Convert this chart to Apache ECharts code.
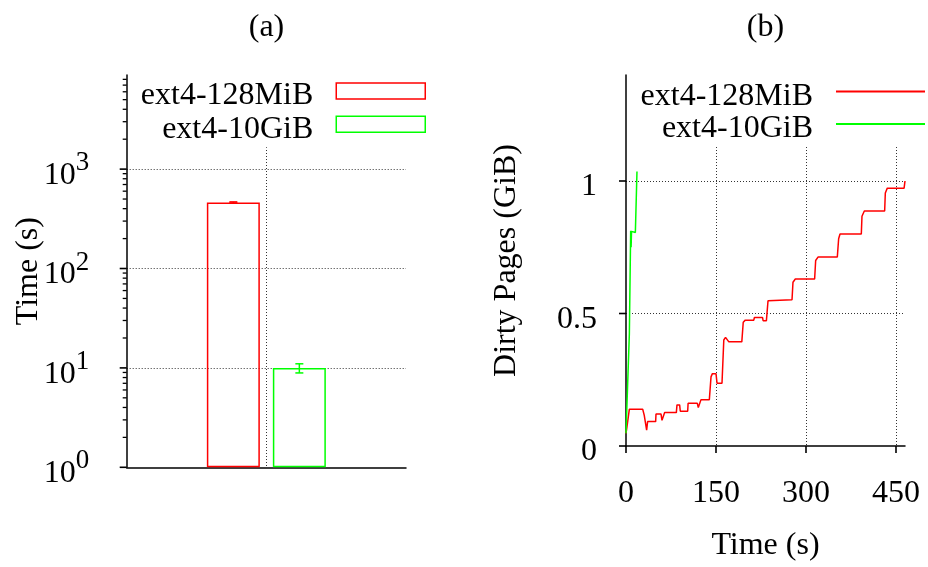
<!DOCTYPE html>
<html>
<head>
<meta charset="utf-8">
<title>ext4 time and dirty pages</title>
<script src="https://cdn.jsdelivr.net/npm/echarts@6/dist/echarts.min.js"></script>
<style>
  html, body { margin: 0; padding: 0; background: #fff; }
  #chart { width: 928px; height: 567px; }
</style>
</head>
<body>
<div id="chart"></div>
<script>
const FONT = 'Liberation Serif'
const seriesNames = ['ext4-128MiB', 'ext4-10GiB']
const colors = ['#ff0000', '#00ff00']

// (a) total run time, log scale
const barSlots = ['', 'ext4', ' ']
const times = [462, 10]
const timeErrLow = [456, 8.9]
const timeErrHigh = [468, 11]
const logMajor = [1, 10, 100, 1000]
const logMinor = [2, 3, 4, 5, 6, 7, 8, 9, 20, 30, 40, 50, 60, 70, 80, 90,
  200, 300, 400, 500, 600, 700, 800, 900, 2000, 3000, 4000, 5000, 6000, 7000, 8000]

// (b) dirty pages (GiB) over time (s)
const dirty128 = [
  [0, 0.048], [1.5, 0.07], [5.6, 0.139], [27.8, 0.139], [30.5, 0.115], [33, 0.115],
  [34.4, 0.06], [36, 0.092], [49.4, 0.092], [50, 0.121], [58.3, 0.121], [60, 0.097],
  [63, 0.097], [64.4, 0.126], [83.9, 0.126], [85, 0.155], [89.4, 0.155], [90.5, 0.131],
  [102.8, 0.131], [103.5, 0.161], [118.9, 0.161], [119.5, 0.168], [120.5, 0.145],
  [123.5, 0.145], [125, 0.175], [138.9, 0.175], [141.7, 0.261], [144, 0.273],
  [150, 0.273], [151.7, 0.237], [160, 0.237], [163, 0.4], [165.9, 0.41], [168, 0.41],
  [171.4, 0.393], [193, 0.393], [195.4, 0.467], [198.8, 0.475], [213, 0.475],
  [214, 0.485], [227.5, 0.485], [228.5, 0.473], [234, 0.473], [236.7, 0.548],
  [239, 0.552], [276.7, 0.552], [278.3, 0.618], [282.2, 0.63], [314.4, 0.63],
  [316.1, 0.7], [320, 0.713], [352.2, 0.713], [354.4, 0.782], [356.7, 0.8],
  [392.2, 0.8], [393.3, 0.867], [397.2, 0.887], [431.1, 0.887], [432.2, 0.955],
  [435.5, 0.973], [463.5, 0.973], [465, 1.0]
]
const dirty10g = [
  [0, 0.048], [3.3, 0.048], [5.6, 0.424], [7.8, 0.812], [8.5, 0.75], [9.2, 0.81],
  [10, 0.806], [15.6, 0.806], [18.3, 1.036]
]
const timeTicks = [0, 150, 300, 450]
const dirtyTicks = [0, 0.5, 1]

const BAR_W = 53
const BAR_GAP = 13

const dots = { color: '#333', width: 1, type: [1, 2] }
const blackLine = { show: true, lineStyle: { color: '#000', width: 1.5 } }
const tickText = { fontFamily: FONT, fontSize: 32, color: '#000' }
const nameText = { fontFamily: FONT, fontSize: 32, color: '#000' }
const logRich = {
  b: { fontFamily: FONT, fontSize: 32, lineHeight: 42, verticalAlign: 'bottom', fill: '#000' },
  s: { fontFamily: FONT, fontSize: 27, lineHeight: 27, verticalAlign: 'top', fill: '#000' }
}

// tick marks and tick labels, placed through the axes' own coord()
const yTicks = (xi, yi, vals, len, label, dx, dy) => ({
  type: 'custom', xAxisIndex: xi, yAxisIndex: yi, z: 10,
  data: vals.map((v) => [0, v]),
  renderItem(params, api) {
    const p = api.coord([api.value(0), api.value(1)])
    const w = len > 5 ? 1.6 : 1.3
    const kids = [{ type: 'rect', shape: { x: p[0] - len, y: p[1] - w / 2, width: len, height: w },
      style: { fill: '#000' } }]
    if (label) {
      kids.push({ type: 'text', x: p[0] - dx, y: p[1] + dy,
        style: { ...label(api.value(1)), align: 'right', verticalAlign: 'middle' } })
    }
    return { type: 'group', children: kids }
  }
})
const xTicks = (xi, yi, vals, len, dy) => ({
  type: 'custom', xAxisIndex: xi, yAxisIndex: yi, z: 10,
  data: vals.map((v) => [v, 0]),
  renderItem(params, api) {
    const p = api.coord([api.value(0), api.value(1)])
    return { type: 'group', children: [
      { type: 'rect', shape: { x: p[0] - 0.8, y: p[1], width: 1.6, height: len }, style: { fill: '#000' } },
      { type: 'text', x: p[0], y: p[1] + dy,
        style: { text: String(api.value(0)), font: '32px "Liberation Serif"', fill: '#000',
          align: 'center', verticalAlign: 'middle' } }
    ] }
  }
})

const legendBase = {
  align: 'right', orient: 'vertical', itemWidth: 89, padding: [0, 0, 2, 0],
  backgroundColor: '#fff', selectedMode: false,
  formatter: (name) => '{g| }\n' + name,
  textStyle: { ...tickText, padding: [0, 18, 0, 0], rich: { g: { fontSize: 1, lineHeight: 10 } } }
}
const boxLegend = (i, top) => ({
  ...legendBase, right: 502, top: top, itemHeight: 16,
  data: [{ name: seriesNames[i], icon: 'rect',
    itemStyle: { color: '#fff', borderColor: colors[i], borderWidth: 1.5 } }]
})
const lineLegend = (i, top) => ({
  ...legendBase, right: 3, top: top, itemHeight: 2,
  data: [{ name: seriesNames[i], icon: 'rect',
    itemStyle: { color: colors[i], borderWidth: 0 } }]
})

const chart = echarts.init(document.getElementById('chart'))
chart.setOption({
  animation: false,
  textStyle: { fontFamily: FONT },
  title: [
    { text: '(a)', left: 266.5, top: 12, textAlign: 'center', padding: 0,
      textStyle: { ...nameText, fontWeight: 'normal' } },
    { text: '(b)', left: 765.5, top: 12, textAlign: 'center', padding: 0,
      textStyle: { ...nameText, fontWeight: 'normal' } }
  ],
  legend: [boxLegend(0, 74.5), boxLegend(1, 107.7), lineLegend(0, 75), lineLegend(1, 107.5)],
  grid: [
    { left: 126.7, right: 522, top: 75, bottom: 99.7 },
    { left: 626, right: 23, top: 75, bottom: 107 }
  ],
  xAxis: [
    {
      gridIndex: 0, type: 'category', data: barSlots, boundaryGap: false,
      axisLine: blackLine, axisTick: { show: false }, axisLabel: { show: false },
      splitLine: { show: true, interval: 0, showMinLine: false, showMaxLine: false, lineStyle: dots }
    },
    {
      gridIndex: 1, type: 'value', min: 0, max: 465, interval: 150,
      axisLine: blackLine, axisTick: { show: false, customValues: timeTicks },
      axisLabel: { show: false },
      splitLine: { show: true, showMinLine: false, lineStyle: dots },
      name: 'Time (s)', nameLocation: 'middle', nameGap: 84, nameMoveOverlap: false,
      nameTextStyle: nameText
    }
  ],
  yAxis: [
    {
      gridIndex: 0, type: 'log', logBase: 10, min: 1, max: 8850,
      axisLine: blackLine, axisTick: { show: false, customValues: logMajor },
      axisLabel: { show: false },
      splitLine: { show: true, showMinLine: false, lineStyle: dots },
      name: 'Time (s)', nameLocation: 'middle', nameGap: 82.5, nameMoveOverlap: false,
      nameTextStyle: nameText
    },
    {
      gridIndex: 1, type: 'value', min: 0, max: 1.4, interval: 0.5,
      axisLine: blackLine, axisTick: { show: false, customValues: dirtyTicks },
      axisLabel: { show: false },
      splitLine: { show: true, showMinLine: false, lineStyle: dots },
      name: 'Dirty Pages (GiB)', nameLocation: 'middle', nameGap: 103, nameMoveOverlap: false,
      nameTextStyle: nameText
    }
  ],
  series: [
    ...seriesNames.map((name, i) => ({
      name: name, type: 'bar', xAxisIndex: 0, yAxisIndex: 0,
      data: barSlots.map((s, k) => (k === 1 ? times[i] : null)),
      barWidth: BAR_W, barGap: (BAR_GAP / BAR_W * 100) + '%',
      itemStyle: { color: 'transparent', borderColor: colors[i], borderWidth: 1.5 }
    })),
    {
      type: 'custom', xAxisIndex: 0, yAxisIndex: 0, z: 5,
      data: times.map((t, i) => [1, timeErrLow[i], timeErrHigh[i], i]),
      renderItem(params, api) {
        const i = api.value(3)
        const shift = (i === 0 ? -1 : 1) * (BAR_W + BAR_GAP) / 2
        const lo = api.coord([api.value(0), api.value(1)])
        const hi = api.coord([api.value(0), api.value(2)])
        const x = lo[0] + shift
        const style = { stroke: colors[i], lineWidth: 1.5 }
        return {
          type: 'group',
          children: [
            { type: 'line', shape: { x1: x, y1: lo[1], x2: x, y2: hi[1] }, style },
            { type: 'line', shape: { x1: x - 4, y1: lo[1], x2: x + 4, y2: lo[1] }, style },
            { type: 'line', shape: { x1: x - 4, y1: hi[1], x2: x + 4, y2: hi[1] }, style }
          ]
        }
      }
    },
    yTicks(0, 0, logMajor, 7,
      (v) => ({ text: '{b|10}{s|' + Math.round(Math.log10(v)) + '}', rich: logRich }), 37.4, 1.5),
    yTicks(0, 0, logMinor, 4),
    yTicks(1, 1, dirtyTicks, 7,
      (v) => ({ text: String(v), font: '32px "Liberation Serif"', fill: '#000' }), 29, 6),
    xTicks(1, 1, timeTicks, 7, 48),
    ...[dirty128, dirty10g].map((pts, i) => ({
      name: seriesNames[i], type: 'line', xAxisIndex: 1, yAxisIndex: 1,
      data: pts, showSymbol: false, symbol: 'none',
      lineStyle: { color: colors[i], width: 1.5 },
      itemStyle: { color: colors[i] }
    }))
  ]
})
</script>
</body>
</html>
